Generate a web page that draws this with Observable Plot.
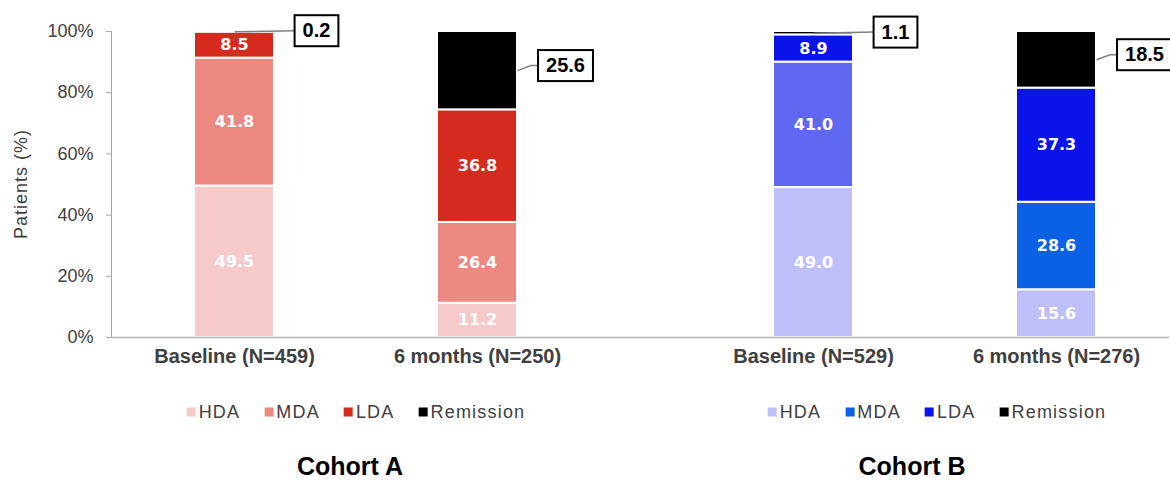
<!DOCTYPE html>
<html>
<head>
<meta charset="utf-8">
<script src="https://cdn.jsdelivr.net/npm/d3@7"></script>
<script src="https://cdn.jsdelivr.net/npm/@observablehq/plot@0.6"></script>
<style>
  body { margin: 0; background: #fff; }
  #wrap { position: relative; width: 1170px; height: 480px; overflow: hidden; font-family: "Liberation Sans", Arial, sans-serif; }
  #chart { position: absolute; left: 0; top: 0; }
  .ylab { position: absolute; left: 21px; top: 184px; transform: translate(-50%, -50%) rotate(-90deg);
          font-size: 18px; color: #404040; letter-spacing: 1px; white-space: nowrap; }
  .leg { position: absolute; top: 412px; width: max-content; transform: translate(-50%, -50%); white-space: nowrap; }
  .title { position: absolute; top: 467px; transform: translate(-50%, -50%); font-size: 25px;
           font-weight: bold; color: #000; white-space: nowrap; line-height: 1.1; }
  .lg-swatches { margin: 0 !important; min-height: 0 !important; flex-wrap: nowrap !important; }
  .lg-swatch { margin-right: 24px !important; letter-spacing: 1.2px; }
  .lg-swatch:last-child { margin-right: 0 !important; }
  .lg-swatch > svg { margin-right: 3px !important; }
</style>
</head>
<body>
<div id="wrap">
  <div id="chart"></div>
  <div class="ylab">Patients (%)</div>
  <div class="leg" id="legA" style="left:356px"></div>
  <div class="leg" id="legB" style="left:937px"></div>
  <div class="title" style="left:350px">Cohort A</div>
  <div class="title" style="left:912px">Cohort B</div>
</div>
<script>
// ---- data ----
const cohorts = ["A", "B"];
const timepoints = ["Baseline", "6 months"];
const statuses = ["HDA", "MDA", "LDA", "Remission"];
const tickLabelsA = ["Baseline (N=459)", "6 months (N=250)"];
const tickLabelsB = ["Baseline (N=529)", "6 months (N=276)"];
const cohortA_baseline = [49.5, 41.8, 8.5, 0.2];
const cohortA_6months = [11.2, 26.4, 36.8, 25.6];
const cohortB_baseline = [49.0, 41.0, 8.9, 1.1];
const cohortB_6months = [15.6, 28.6, 37.3, 18.5];
const yTicks = [0, 20, 40, 60, 80, 100];

// ---- styles ----
const paletteA = ["#f6cac9", "#ec8a81", "#d52a1e", "#000000"];
const paletteB = ["#bfc0f9", "#0b60e6", "#0a13ea", "#000000"];
const baselineB_MDA = "#6068f2";

const series = {
  A: {"Baseline": cohortA_baseline, "6 months": cohortA_6months},
  B: {"Baseline": cohortB_baseline, "6 months": cohortB_6months}
};
const rows = [];
for (const c of cohorts) for (const t of timepoints) statuses.forEach((s, i) =>
  rows.push({cohort: c, time: t, status: s, value: series[c][t][i]}));

const tickRows = [];
cohorts.forEach(c => timepoints.forEach((t, i) =>
  tickRows.push({cohort: c, time: t, label: (c === "A" ? tickLabelsA : tickLabelsB)[i]})));

const colorOf = d => (d.cohort === "B" && d.time === "Baseline" && d.status === "MDA")
  ? baselineB_MDA
  : (d.cohort === "A" ? paletteA : paletteB)[statuses.indexOf(d.status)];

const chart = Plot.plot({
  width: 1170, height: 385,
  marginLeft: 110, marginRight: 0, marginTop: 31, marginBottom: 48,
  style: {fontFamily: "Liberation Sans, Arial, sans-serif", fontSize: "18px", color: "#404040", background: "white"},
  fx: {domain: cohorts, paddingInner: 0.1724, paddingOuter: 0, axis: null, label: null},
  x: {domain: timepoints, paddingInner: 0.672, paddingOuter: 0.3197, align: 0.532, axis: null},
  y: {domain: [0, 100], axis: null},
  marks: [
    Plot.axisY({ticks: yTicks, tickFormat: d => d + "%", tickSize: 5, tickPadding: 13,
      stroke: "#a6a6a6", fill: "#404040", label: null, fontSize: 18}),
    Plot.frame({anchor: "left", stroke: "#a6a6a6", facetAnchor: "left"}),
    Plot.barY(rows, {fx: "cohort", x: "time", y: "value", fill: colorOf, stroke: "white", strokeWidth: 2}),
    Plot.ruleY([{cohort: "A", v: 0}], {fx: "cohort", y: "v", stroke: "#b4b4b4", strokeWidth: 1.5, insetRight: -100}),
    Plot.ruleY([{cohort: "B", v: 0}], {fx: "cohort", y: "v", stroke: "#b4b4b4", strokeWidth: 1.5}),
    Plot.text(rows, Plot.stackY({fx: "cohort", x: "time", y: "value",
      text: d => d.status === "Remission" ? null : d.value.toFixed(1),
      fill: "white", fontWeight: "bold", fontSize: 16, fontFamily: "DejaVu Sans, sans-serif"})),
    Plot.text(rows, Plot.stackY({fx: "cohort", x: "time", y: "value",
      text: d => d.status === "Remission" && d.time === "Baseline" ? d.value.toFixed(1) : null,
      dx: 82, dy: -1, fill: "black", fontWeight: "bold", fontSize: 20,
      ariaLabel: () => "callout-base", ariaDescription: "callout-base"})),
    Plot.text(rows, Plot.stackY({fx: "cohort", x: "time", y: "value",
      text: d => d.status === "Remission" && d.time === "6 months" ? d.value.toFixed(1) : null,
      dx: 88, dy: -5, fill: "#000", fontWeight: "bold", fontSize: 20,
      ariaLabel: () => "callout-6m", ariaDescription: "callout-6m"})),
    Plot.text(tickRows, {fx: "cohort", x: "time", text: "label", frameAnchor: "bottom", dy: 25,
      fontSize: 20, fontWeight: "bold", fill: "#404040"})
  ]
});
document.getElementById("chart").append(chart);

// callout boxes and leader lines, positioned from the rendered labels and the x scale
const ns = "http://www.w3.org/2000/svg";
const half = chart.scale("x").bandwidth / 2;
function calloutTexts(label, fill) {
  const out = new Set();
  chart.querySelectorAll(`[aria-label="${label}"], [aria-description="${label}"], g[fill="${fill}"]`).forEach(el => {
    if (el.tagName.toLowerCase() === "text") out.add(el);
    else el.querySelectorAll("text").forEach(t => out.add(t));
  });
  return [...out];
}
function callouts(label, fill, dx, dy, fromEdge) {
  calloutTexts(label, fill).forEach(t => {
    const bb = t.getBBox();
    const tr = t.getAttribute("transform") || "";
    const padX = 8, padY = 5;
    const bx = bb.x - padX, by = bb.y - padY + 1, bw = bb.width + 2 * padX, bh = bb.height + 2 * padY - 1;
    const rect = document.createElementNS(ns, "rect");
    rect.setAttribute("transform", tr);
    rect.setAttribute("x", bx); rect.setAttribute("y", by);
    rect.setAttribute("width", bw); rect.setAttribute("height", bh);
    rect.setAttribute("fill", "white"); rect.setAttribute("stroke", "black"); rect.setAttribute("stroke-width", 2);
    const midY = by + bh / 2;
    const ax = fromEdge ? -dx + half : -dx, ay = -dy;
    const d = fromEdge ? `M${ax},${ay}L${bx - 7},${midY}L${bx},${midY}` : `M${ax},${ay}L${bx},${midY}`;
    const path = document.createElementNS(ns, "path");
    path.setAttribute("transform", tr);
    path.setAttribute("d", d);
    path.setAttribute("fill", "none"); path.setAttribute("stroke", "#7f7f7f"); path.setAttribute("stroke-width", 1.5);
    t.parentNode.insertBefore(path, t);
    t.parentNode.insertBefore(rect, t);
  });
}
callouts("callout-base", "black", 82, -1, false);
callouts("callout-6m", "#000", 88, -5, true);

// legends
const legStyle = {fontSize: "18px", fontFamily: "Liberation Sans, Arial, sans-serif", color: "#404040"};
document.getElementById("legA").append(Plot.legend({
  color: {domain: statuses, range: paletteA}, legend: "swatches", swatchSize: 9, className: "lg", style: legStyle}));
document.getElementById("legB").append(Plot.legend({
  color: {domain: statuses, range: paletteB}, legend: "swatches", swatchSize: 9, className: "lg", style: legStyle}));
</script>
</body>
</html>
